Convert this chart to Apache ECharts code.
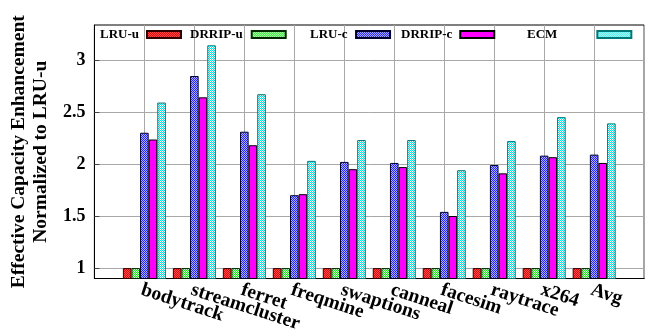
<!DOCTYPE html>
<html>
<head>
<meta charset="utf-8">
<script src="https://cdn.jsdelivr.net/npm/echarts@6/dist/echarts.min.js"></script>
<style>html,body{margin:0;padding:0;background:#fff;}#c{width:647px;height:336px;}</style>
</head>
<body>
<div id="c"></div>
<script>
// ---- data ----
const categories = ['bodytrack','streamcluster','ferret','freqmine','swaptions','canneal','facesim','raytrace','x264','Avg'];
const seriesNames = ['LRU-u','DRRIP-u','LRU-c','DRRIP-c','ECM'];
const lruU   = [1,1,1,1,1,1,1,1,1,1];
const drripU = [1,1,1,1,1,1,1,1,1,1];
const lruC   = [2.30,2.845,2.31,1.70,2.02,2.01,1.54,1.99,2.08,2.09];
const drripC = [2.235,2.64,2.18,1.71,1.95,1.97,1.50,1.91,2.065,2.01];
const ecm    = [2.59,3.14,2.67,2.03,2.23,2.23,1.94,2.22,2.45,2.39];
const yTicks = [1,1.5,2,2.5,3];

function checker(c1, c2) {
  const cv = document.createElement('canvas');
  cv.width = 2; cv.height = 2;
  const g = cv.getContext('2d');
  g.fillStyle = c1; g.fillRect(0,0,2,2);
  g.fillStyle = c2; g.fillRect(1,0,1,1); g.fillRect(0,1,1,1);
  return {image: cv, repeat: 'repeat'};
}

const styles = [
  {color: checker('#ff4a4a', '#d80c0c'), borderColor: '#300000'},
  {color: checker('#18e818', '#d0ffd0'), borderColor: '#002800'},
  {color: checker('#2424ff', '#b0b0ff'), borderColor: '#000030'},
  {color: '#ff00ff', borderColor: '#000000'},
  {color: checker('#00e4e4', '#ffffff'), borderColor: '#007878'}
];
const dataArr = [lruU, drripU, lruC, drripC, ecm];

// pad category list with blank slots at both ends
const xCats = [''].concat(categories, ['']);
const font = 'Liberation Serif';

const series = seriesNames.map((n, i) => ({
  name: n,
  type: 'bar',
  barWidth: 8.6,
  barGap: '0%',
  data: [null].concat(dataArr[i], [null]),
  itemStyle: Object.assign({borderWidth: 1}, styles[i]),
  emphasis: {disabled: true},
  animation: false
}));

const legendLeft = [100, 190, 310, 401, 527];
const legendPad  = [3, 4, 3.5, 3, 35];
const legends = seriesNames.map((n, i) => ({
  data: [{name: n, icon: 'rect'}],
  left: legendLeft[i],
  top: 28,
  padding: 0,
  align: 'right',
  itemWidth: 34,
  itemHeight: 7,
  selectedMode: false,
  textStyle: {fontFamily: font, fontWeight: 'bold', fontSize: 13, color: '#000', padding: [0, legendPad[i], 0, 0]}
}));

const chart = echarts.init(document.getElementById('c'), null, {renderer: 'canvas'});
chart.setOption({
  animation: false,
  backgroundColor: '#fff',
  grid: {left: 91, right: -2, top: 25, bottom: 57.5, show: true, borderColor: '#000', borderWidth: 1},
  legend: legends,
  xAxis: {
    type: 'category',
    data: xCats,
    boundaryGap: false,
    axisLine: {show: true, lineStyle: {color: '#000', width: 1}},
    axisTick: {show: false},
    splitLine: {show: true, lineStyle: {color: '#a8a8a8', width: 1}},
    axisLabel: {
      interval: 0, rotate: -18, margin: 12,
      fontFamily: font, fontWeight: 'bold', fontSize: 19.5, color: '#000',
      padding: [0, 0, 0, -3]
    }
  },
  yAxis: {
    type: 'value',
    min: 0.9,
    max: 3.335,
    name: 'Effective Capacity Enhancement\nNormalized to LRU-u',
    nameLocation: 'middle',
    nameRotate: 90,
    nameGap: 40,
    nameTextStyle: {fontFamily: font, fontWeight: 'bold', fontSize: 19.5, lineHeight: 22, color: '#000'},
    axisLine: {show: true, lineStyle: {color: '#000', width: 1}},
    axisTick: {show: true, inside: true, length: 5, lineStyle: {color: '#444'}, customValues: yTicks},
    splitLine: {show: true, lineStyle: {color: '#a8a8a8', width: 1}},
    axisLabel: {customValues: yTicks, margin: 9, fontFamily: font, fontWeight: 'bold', fontSize: 18, color: '#000'}
  },
  series: series
});
</script>
</body>
</html>
